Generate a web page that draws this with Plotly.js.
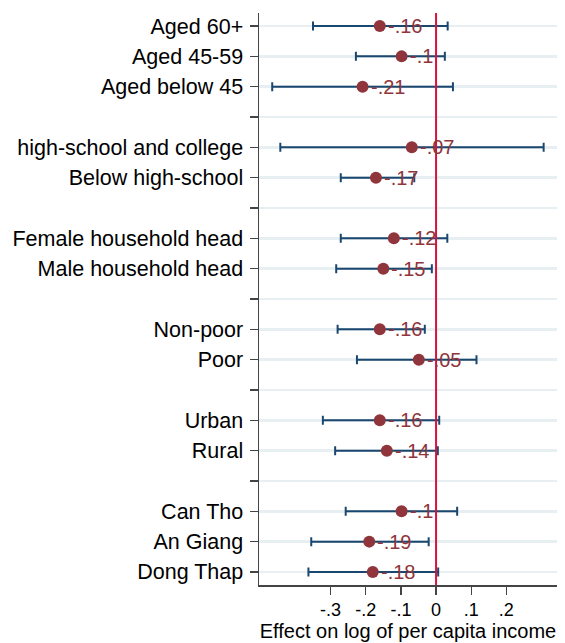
<!DOCTYPE html>
<html>
<head>
<meta charset="utf-8">
<script src="https://cdn.plot.ly/plotly-3.0.1.min.js"></script>
<style>html,body{margin:0;padding:0;background:#fff;}#chart{width:565px;height:643px;}</style>
</head>
<body>
<div id="chart"></div>
<script>
// Row layout (blank strings are spacer rows between groups)
const rowLabels = ["Aged 60+","Aged 45-59","Aged below 45","",
  "high-school and college","Below high-school","",
  "Female household head","Male household head","",
  "Non-poor","Poor","",
  "Urban","Rural","",
  "Can Tho","An Giang","Dong Thap"];
const groups = ["Aged 60+","Aged 45-59","Aged below 45",
  "high-school and college","Below high-school",
  "Female household head","Male household head",
  "Non-poor","Poor","Urban","Rural",
  "Can Tho","An Giang","Dong Thap"];
const estimates = [-0.16,-0.098,-0.209,-0.069,-0.171,-0.12,-0.15,-0.16,-0.049,-0.16,-0.14,-0.098,-0.19,-0.18];
const lowerCI = [-0.35,-0.228,-0.466,-0.443,-0.271,-0.271,-0.284,-0.28,-0.225,-0.322,-0.287,-0.257,-0.355,-0.363];
const upperCI = [0.033,0.025,0.048,0.306,-0.062,0.032,-0.012,-0.032,0.115,0.009,0.005,0.06,-0.021,0.006];
const valueLabels = ["-.16","-.1","-.21","-.07","-.17","-.12","-.15","-.16","-.05","-.16","-.14","-.1","-.19","-.18"];
const xTickVals = [-0.3,-0.2,-0.1,0,0.1,0.2];
const xTickText = ["-.3","-.2","-.1","0",".1",".2"];
const xTitle = "Effect on log of per capita income";

const rowPos = rowLabels.map((_, i) => i + 1);
const yPos = groups.map(g => rowLabels.indexOf(g) + 1);

const font = "Liberation Sans, Arial, sans-serif";
const trace = {
  type: "scatter",
  mode: "markers",
  x: estimates,
  y: yPos,
  marker: {color: "#90353b", size: 12},
  error_x: {
    type: "data", symmetric: false,
    array: estimates.map((e, i) => upperCI[i] - e),
    arrayminus: estimates.map((e, i) => e - lowerCI[i]),
    color: "#1a476f", thickness: 2, width: 4.5
  },
  cliponaxis: false,
  hoverinfo: "skip"
};

const valueAnnotations = estimates.map((e, i) => ({
  x: e, y: yPos[i], xref: "x", yref: "y",
  text: valueLabels[i], showarrow: false,
  xanchor: "left", yanchor: "middle", xshift: 6, yshift: 0,
  font: {family: font, size: 20, color: "#90353b"}
}));

const layout = {
  width: 565, height: 643,
  margin: {l: 259, r: 8, t: 13, b: 58},
  paper_bgcolor: "#ffffff", plot_bgcolor: "#ffffff",
  showlegend: false,
  font: {family: font, size: 20, color: "#000"},
  xaxis: {
    range: [-0.5036, 0.344],
    tickvals: xTickVals, ticktext: xTickText,
    ticks: "outside", ticklen: 8, tickwidth: 1.2, tickcolor: "#444",
    showgrid: false, zeroline: false,
    showline: true, linecolor: "#444", linewidth: 1.5,
    tickfont: {family: font, size: 18, color: "#000"},
    ticklabelstandoff: 0,
    title: {text: xTitle, font: {family: font, size: 20, color: "#000"}, standoff: 4}
  },
  yaxis: {
    range: [19.43, 0.57],
    tickvals: rowPos, ticktext: rowLabels,
    ticks: "outside", ticklen: 8, tickwidth: 1.2, tickcolor: "#444",
    showgrid: true, gridcolor: "#e8eff2", gridwidth: 2.5,
    zeroline: false,
    showline: true, linecolor: "#444", linewidth: 1.5,
    tickfont: {family: font, size: 21.5, color: "#000"},
    ticklabelstandoff: 2
  },
  annotations: valueAnnotations,
  shapes: [{
    type: "line", xref: "x", yref: "paper",
    x0: 0, x1: 0, y0: 0, y1: 1,
    line: {color: "#d9123d", width: 2}
  }]
};

Plotly.newPlot("chart", [trace], layout, {staticPlot: true, displayModeBar: false});
</script>
</body>
</html>
